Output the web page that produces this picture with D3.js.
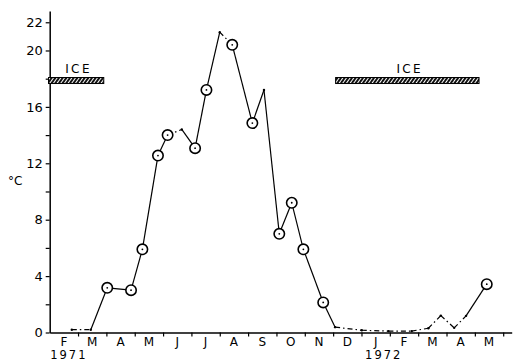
<!DOCTYPE html>
<html>
<head>
<meta charset="utf-8">
<script src="https://cdn.jsdelivr.net/npm/d3@7"></script>
<style>
  html, body { margin: 0; padding: 0; background: #fff; }
  svg { display: block; }
  text { font-family: "DejaVu Sans", sans-serif; fill: #000; }
</style>
</head>
<body>
<svg id="chart" width="515" height="361"></svg>
<script>
// Water temperature, Feb 1971 – May 1972.
// Position is in months counted from 1 February 1971.
const monthPos = [0.78, 1.45, 2.03, 2.87, 3.27, 3.82, 4.16, 4.66, 5.13, 5.53, 6.00, 6.44, 7.15, 7.56,
                  8.10, 8.54, 8.95, 9.65, 10.07, 11.01, 11.95, 12.77, 13.36, 13.80, 14.27, 14.69, 15.42];
const tempC    = [0.2, 0.2, 3.17, 3.0, 5.9, 12.55, 14.0, 14.4, 13.07, 17.2, 21.3, 20.4, 14.85, 17.2,
                  7.0, 9.2, 5.9, 2.13, 0.38, 0.16, 0.1, 0.1, 0.3, 1.2, 0.33, 1.18, 3.43];
// true = sampled value (ringed point)
const sampled  = [false, false, true, true, true, true, true, false, true, true, false, true, true, false,
                  true, true, true, true, false, false, false, false, false, false, false, false, true];
// segments (by starting index) drawn dash-dot
const dashedSegments = [0, 6, 10, 18, 19, 20, 21, 22, 23, 24];

const monthLetters = ["F","M","A","M","J","J","A","S","O","N","D","J","F","M","A","M"];
const yearLabels = [{ label: "1971", pos: 0.64 }, { label: "1972", pos: 11.75 }];
const yTicks = [0, 2, 4, 6, 8, 10, 12, 14, 16, 18, 20, 22];
const yLabelled = [0, 4, 8, 12, 16, 20, 22];

// ice cover periods (months) and the level the bars are drawn at
const iceSpans = [[0, 1.95], [10.13, 15.19]];
const iceLevel = 17.87;

const svg = d3.select("#chart");
const x = d3.scaleLinear().domain([0, 16.3]).range([49.7, 511.7]);
const y = d3.scaleLinear().domain([0, 22.8]).range([332.5, 11]);

// hatch pattern for the ice bars
const defs = svg.append("defs");
const pat = defs.append("pattern")
  .attr("id", "ice-hatch").attr("patternUnits", "userSpaceOnUse")
  .attr("width", 3).attr("height", 3)
  .attr("patternTransform", "rotate(35)");
pat.append("rect").attr("width", 3).attr("height", 3).attr("fill", "#111");
pat.append("line").attr("x1", 1.5).attr("y1", 0).attr("x2", 1.5).attr("y2", 3)
  .attr("stroke", "#fff").attr("stroke-width", 1);

// y axis
const yAxis = d3.axisLeft(y).tickValues(yTicks).tickSize(4).tickSizeOuter(0)
  .tickFormat(d => yLabelled.includes(d) ? d : "");
const gy = svg.append("g").attr("transform", `translate(${x(0)},0)`).call(yAxis);
gy.select(".domain").attr("stroke", "#000").attr("stroke-width", 1.5);
gy.selectAll(".tick line").attr("stroke", "#000").attr("stroke-width", 1.2);
gy.selectAll(".tick text").attr("font-size", 13).attr("x", -7).attr("fill", "#000");

svg.append("text").attr("x", 8).attr("y", 185).attr("font-size", 12).text("°C");

// x axis: month boundaries as ticks, letters centred in each month
const xAxis = d3.axisBottom(x).tickValues(d3.range(1, 17)).tickSize(4).tickSizeOuter(0).tickFormat("");
const gx = svg.append("g").attr("transform", `translate(0,${y(0)})`).call(xAxis);
gx.select(".domain").attr("stroke", "#000").attr("stroke-width", 1.5);
gx.selectAll(".tick line").attr("stroke", "#000").attr("stroke-width", 1.2);

svg.append("g").selectAll("text").data(monthLetters).join("text")
  .attr("x", (d, i) => x(i + 0.5)).attr("y", 346)
  .attr("text-anchor", "middle").attr("font-size", 12).text(d => d);

// letter-spacing trails the last glyph, so nudge by half of it
svg.append("g").selectAll("text").data(yearLabels).join("text")
  .attr("x", d => x(d.pos) + 1).attr("y", 359)
  .attr("text-anchor", "middle").attr("font-size", 11.5).attr("letter-spacing", 2)
  .text(d => d.label);

// ice bars
svg.append("g").selectAll("rect").data(iceSpans).join("rect")
  .attr("x", d => x(d[0]) - 1.2).attr("width", d => x(d[1]) - x(d[0]))
  .attr("y", y(iceLevel) - 3).attr("height", 6)
  .attr("fill", "url(#ice-hatch)").attr("stroke", "#000").attr("stroke-width", 1);
svg.append("g").selectAll("text").data(iceSpans).join("text")
  .attr("x", d => (x(d[0]) + x(d[1])) / 2 + 1.2).attr("y", y(iceLevel) - 8)
  .attr("text-anchor", "middle").attr("font-size", 12).attr("letter-spacing", 2.4)
  .text("ICE");

// temperature line, segment by segment
const pts = monthPos.map((m, i) => ({ m, t: tempC[i], s: sampled[i] }));
const segs = d3.range(pts.length - 1).map(i => ({ a: pts[i], b: pts[i + 1], dashed: dashedSegments.includes(i) }));
svg.append("g").selectAll("line").data(segs).join("line")
  .attr("x1", d => x(d.a.m)).attr("y1", d => y(d.a.t))
  .attr("x2", d => x(d.b.m)).attr("y2", d => y(d.b.t))
  .attr("stroke", "#000").attr("stroke-width", 1.2)
  .attr("stroke-dasharray", d => d.dashed ? "5,3,1.5,3" : null);

// unsampled points: small dots
svg.append("g").selectAll("circle").data(pts.filter(p => !p.s)).join("circle")
  .attr("cx", d => x(d.m)).attr("cy", d => y(d.t)).attr("r", 1.2).attr("fill", "#000");

// sampled points: ring with centre dot
const ring = svg.append("g").selectAll("g").data(pts.filter(p => p.s)).join("g")
  .attr("transform", d => `translate(${x(d.m)},${y(d.t)})`);
ring.append("circle").attr("r", 5.2).attr("fill", "#fff").attr("stroke", "#000").attr("stroke-width", 1.6);
ring.append("circle").attr("r", 0.9).attr("fill", "#000");
</script>
</body>
</html>
